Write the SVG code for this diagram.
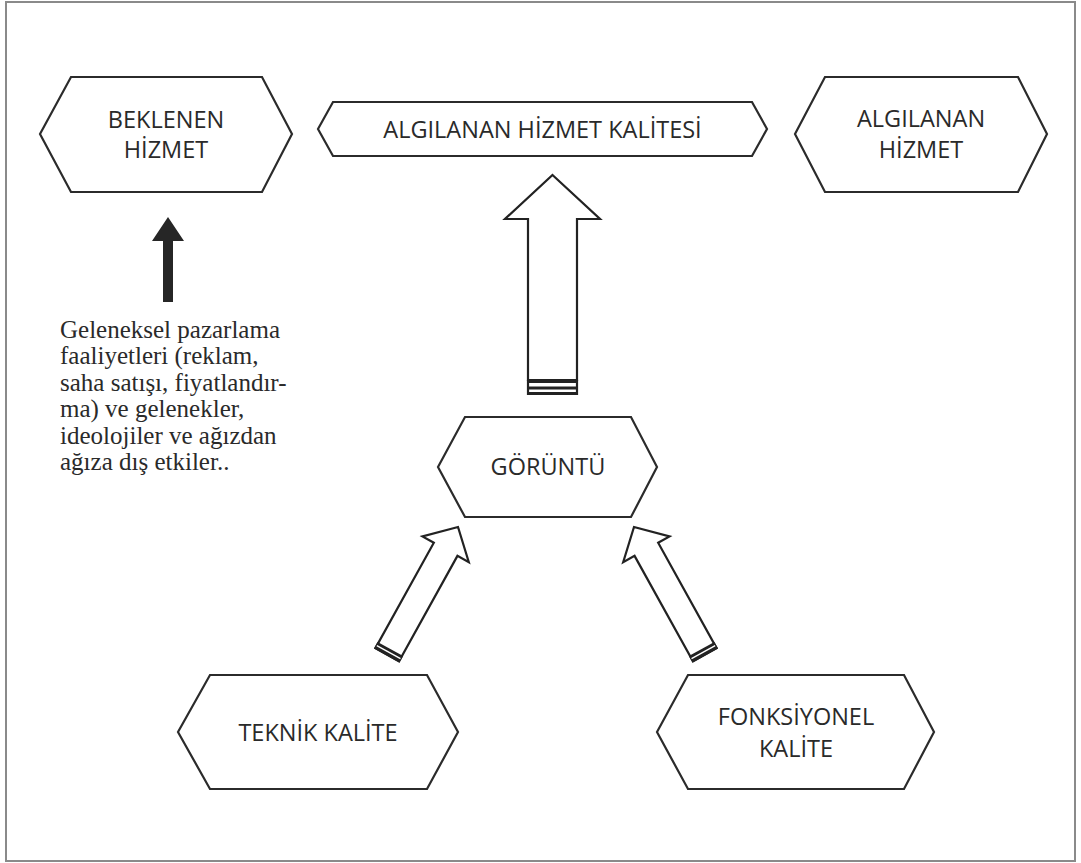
<svg xmlns="http://www.w3.org/2000/svg" width="1081" height="863" viewBox="0 0 1081 863">
<style>
.hex{fill:#fff;stroke:#2b2b2b;stroke-width:2.2;stroke-linejoin:miter}
.lbl{font-family:"Open Sans","Liberation Sans",sans-serif;font-size:23.5px;fill:#2a2a2a;text-anchor:middle}
.note{font-family:"Liberation Serif","Times New Roman",serif;font-size:25px;fill:#2a2a2a}
.harrow{fill:#fff;stroke:#222;stroke-width:2.2;stroke-linejoin:miter}
.band{stroke:#222;stroke-width:3}
</style>
<rect x="0" y="0" width="1081" height="863" fill="#fff"/>
<rect x="6" y="2" width="1069" height="859" fill="none" stroke="#8a8a8a" stroke-width="2"/>

<g id="node-beklenen">
<polygon class="hex" points="40,134 71,77 262,77 292,134 262,192 71,192"/>
<text class="lbl" x="166" y="128">BEKLENEN</text>
<text class="lbl" x="166" y="158">HİZMET</text>
</g>

<g id="node-algilanan-kalite">
<polygon class="hex" points="318,129 333,102 752,102 767,129 752,156 333,156"/>
<text class="lbl" x="542.5" y="138">ALGILANAN HİZMET KALİTESİ</text>
</g>

<g id="node-algilanan-hizmet">
<polygon class="hex" points="795,134 825,77 1018,77 1047,134 1018,192 825,192"/>
<text class="lbl" x="921" y="127">ALGILANAN</text>
<text class="lbl" x="921" y="158">HİZMET</text>
</g>

<g id="node-goruntu">
<polygon class="hex" points="438,467 465,417 631,417 657,467 631,517 465,517"/>
<text class="lbl" x="548" y="475">GÖRÜNTÜ</text>
</g>

<g id="node-teknik">
<polygon class="hex" points="178,732 210,675 427,675 458,732 427,789 210,789"/>
<text class="lbl" x="318" y="741">TEKNİK KALİTE</text>
</g>

<g id="node-fonksiyonel">
<polygon class="hex" points="657,732 688,675 904,675 934,732 904,789 688,789"/>
<text class="lbl" x="796" y="725">FONKSİYONEL</text>
<text class="lbl" x="796" y="757">KALİTE</text>
</g>

<g id="note-geleneksel">
<text class="note" x="60" y="338">Geleneksel pazarlama</text>
<text class="note" x="60" y="364.4">faaliyetleri (reklam,</text>
<text class="note" x="60" y="390.8">saha satışı, fiyatlandır-</text>
<text class="note" x="60" y="417.2">ma) ve gelenekler,</text>
<text class="note" x="60" y="443.6">ideolojiler ve ağızdan</text>
<text class="note" x="60" y="470">ağıza dış etkiler..</text>
</g>

<g id="connectors">
<!-- black arrow from note to BEKLENEN HIZMET -->
<polygon points="168,217 184,241 173,241 173,302 163,302 163,241 152,241" fill="#262626"/>

<!-- big hollow arrow from GORUNTU to ALGILANAN HIZMET KALITESI -->
<g id="arrow-up">
<polygon class="harrow" points="552.5,175 600,219 577,219 577,380 528,380 528,219 505,219"/>
<line class="harrow" x1="528" y1="380" x2="528" y2="395"/>
<line class="harrow" x1="577" y1="380" x2="577" y2="395"/>
<line class="band" x1="527" y1="381.5" x2="578" y2="381.5"/>
<line class="band" x1="527" y1="388" x2="578" y2="388" stroke-width="2"/>
<line class="band" x1="527" y1="393.5" x2="578" y2="393.5"/>
</g>

<!-- diagonal arrow from TEKNIK KALITE to GORUNTU -->
<g id="arrow-left" transform="translate(458,527) rotate(29)">
<polygon class="harrow" points="0,0 26.5,25.5 13.5,25.5 13.5,146 -13.5,146 -13.5,25.5 -26.5,25.5"/>
<rect x="-14.6" y="139.5" width="29.2" height="7.6" fill="#222"/>
<line x1="-13.5" y1="143" x2="13.5" y2="143" stroke="#fff" stroke-width="1.4"/>
</g>

<!-- diagonal arrow from FONKSIYONEL KALITE to GORUNTU -->
<g id="arrow-right" transform="translate(634,527) rotate(-29)">
<polygon class="harrow" points="0,0 26.5,25.5 13.5,25.5 13.5,146 -13.5,146 -13.5,25.5 -26.5,25.5"/>
<rect x="-14.6" y="139.5" width="29.2" height="7.6" fill="#222"/>
<line x1="-13.5" y1="143" x2="13.5" y2="143" stroke="#fff" stroke-width="1.4"/>
</g>
</g>
</svg>
